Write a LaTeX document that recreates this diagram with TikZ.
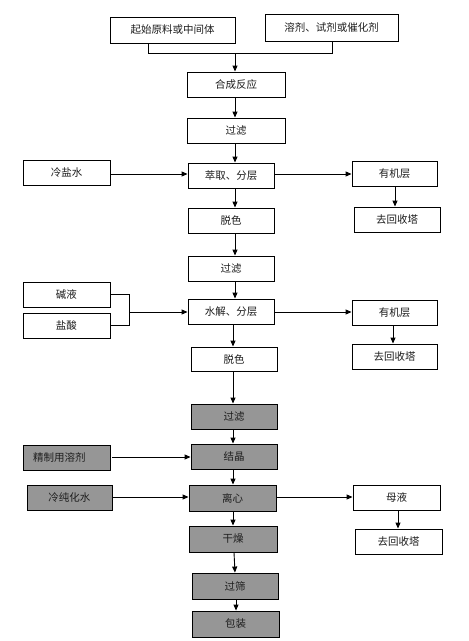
\documentclass[tikz,border=0pt]{standalone}
\usepackage{fontspec}
\setmainfont{Noto Sans CJK SC}
\usetikzlibrary{arrows.meta}
\definecolor{boxgray}{RGB}{150,150,150}
\definecolor{txt}{RGB}{30,30,30}
\tikzset{
  box/.style={draw=black, line width=0.9pt, fill=white, minimum width=86pt, minimum height=25pt, inner sep=0pt, font=\fontsize{10.5}{12}\selectfont, text=txt},
  gbox/.style={box, fill=boxgray},
  conn/.style={draw=black, line width=0.9pt},
  arr/.style={conn, -{Triangle[length=6pt,width=5pt]}}
}
\begin{document}
\begin{tikzpicture}[x=1pt,y=-1pt]
\useasboundingbox[fill=white] (0,0) rectangle (469,641);
% top row
\node[box, minimum width=125pt, minimum height=26pt] (b1) at (172.5,30) {起始原料或中间体};
\node[box, minimum width=133pt, minimum height=27pt] (b2) at (331.5,27.5) {溶剂、试剂或催化剂};
\node[box, minimum width=98pt] (hc) at (236,84.5) {合成反应};
\node[box, minimum width=98pt] (gl1) at (236,130.5) {过滤};
\node[box] (cq) at (231,175.5) {萃取、分层};
\node[box, minimum width=87pt] (lys) at (66.5,172.5) {冷盐水};
\node[box, minimum width=85pt] (yj1) at (394.5,173.5) {有机层};
\node[box] (hs1) at (397,219.5) {去回收塔};
\node[box] (ts1) at (231,220.5) {脱色};
\node[box] (gl2) at (231,268.5) {过滤};
\node[box] (sj) at (231,311.5) {水解、分层};
\node[box, minimum width=87pt] (jy) at (66.5,294.5) {碱液};
\node[box, minimum width=87pt] (ys) at (66.5,325.5) {盐酸};
\node[box, minimum width=85pt] (yj2) at (394.5,312.5) {有机层};
\node[box, minimum width=85pt] (hs2) at (394.5,356.5) {去回收塔};
\node[box, minimum height=24pt] (ts2) at (234,359) {脱色};
% gray part
\node[gbox] (gl3) at (234,416.5) {过滤};
\node[gbox] (jj) at (234,456.5) {结晶};
\node[gbox, minimum width=87pt] (jzr) at (66.5,457.5) {\hspace{-14pt}精制用溶剂};
\node[gbox, minimum width=87pt, minimum height=26pt] (lx) at (232.5,498) {离心};
\node[gbox, minimum width=85pt] (cw) at (69.5,497.5) {冷纯化水};
\node[box, minimum width=87pt] (my) at (396.5,497.5) {母液};
\node[box, minimum width=87pt] (hs3) at (398.5,541.5) {去回收塔};
\node[gbox, minimum width=88pt, minimum height=26pt] (gz) at (233,539) {干燥};
\node[gbox, minimum width=86pt, minimum height=26pt] (gs) at (235,586) {过筛};
\node[gbox, minimum width=87pt, minimum height=26pt] (bz) at (235.5,624) {包装};
% bracket at top
\coordinate (tl) at (148,53);
\coordinate (tr) at (332,53);
\coordinate (tm) at (235,53);
\draw[conn] (b1.south -| tl) -- (tl) -- (tr) -- (b2.south -| tr);
\draw[arr] (tm) -- (tm |- hc.north);
\coordinate (x1) at (235,0);
\draw[arr] (hc.south -| x1) -- (gl1.north -| x1);
\draw[arr] (gl1.south -| x1) -- (cq.north -| x1);
\draw[arr] (cq.south -| x1) -- (ts1.north -| x1);
\draw[arr] (ts1.south -| x1) -- (gl2.north -| x1);
\draw[arr] (gl2.south -| x1) -- (sj.north -| x1);
\coordinate (y1) at (0,174);
\draw[arr] (lys.east |- y1) -- (cq.west |- y1);
\draw[arr] (cq.east |- y1) -- (yj1.west |- y1);
\coordinate (x2) at (395,0);
\draw[arr] (yj1.south -| x2) -- (hs1.north -| x2);
% bracket for 碱液 / 盐酸
\coordinate (bx) at (129,0);
\coordinate (bm) at (129,312);
\draw[conn] (jy.east) -- (jy.east -| bx) -- (ys.east -| bx) -- (ys.east);
\draw[arr] (bm) -- (sj.west |- bm);
\draw[arr] (sj.east |- bm) -- (yj2.west |- bm);
\coordinate (x3) at (393,0);
\draw[arr] (yj2.south -| x3) -- (hs2.north -| x3);
\coordinate (x4) at (233,0);
\draw[arr] (sj.south -| x4) -- (ts2.north -| x4);
\draw[arr] (ts2.south -| x4) -- (gl3.north -| x4);
\draw[arr] (gl3.south -| x4) -- (jj.north -| x4);
\draw[arr] (jj.south -| x4) -- (lx.north -| x4);
\coordinate (y2) at (0,457);
\draw[arr] (jzr.east |- y2) ++(2,0) -- (jj.west |- y2);
\coordinate (y3) at (0,497);
\draw[arr] (cw.east |- y3) -- (lx.west |- y3);
\draw[arr] (lx.east |- y3) -- (my.west |- y3);
\coordinate (x5) at (398,0);
\draw[arr] (my.south -| x5) -- (hs3.north -| x5);
\draw[arr] (lx.south -| x4) -- (gz.north -| x4);
\coordinate (x6) at (234,0);
\coordinate (x7) at (235,0);
\draw[arr] (gz.south -| x6) -- (gs.north -| x7);
\coordinate (x8) at (236,0);
\draw[arr] (gs.south -| x8) -- (bz.north -| x8);
\end{tikzpicture}
\end{document}
